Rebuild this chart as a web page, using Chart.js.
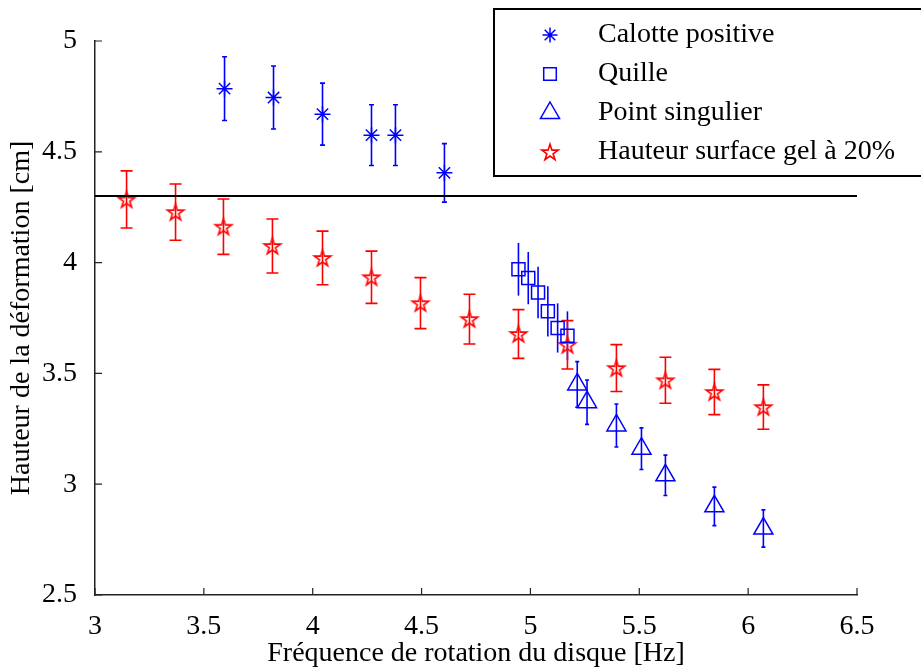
<!DOCTYPE html>
<html><head><meta charset="utf-8">
<script src="https://cdn.jsdelivr.net/npm/chart.js@4.4.0/dist/chart.umd.min.js"></script>
<style>html,body{margin:0;padding:0;background:#fff}canvas{display:block}</style>
</head><body>
<canvas id="c" width="921" height="667" style="width:921px;height:667px"></canvas>
<script>
// ---- data ----
const xTicks = [3, 3.5, 4, 4.5, 5, 5.5, 6, 6.5];
const yTicks = [2.5, 3, 3.5, 4, 4.5, 5];

const seriesNames = ['Calotte positive', 'Quille', 'Point singulier', 'Hauteur surface gel à 20%'];

const calotteX = [3.595, 3.82, 4.045, 4.27, 4.38, 4.605];
const calotteY = [4.785, 4.745, 4.67, 4.575, 4.575, 4.405];
const calotteErr = [0.144, 0.142, 0.14, 0.137, 0.137, 0.132];

const quilleX = [4.945, 4.99, 5.035, 5.08, 5.125, 5.17];
const quilleY = [3.97, 3.93, 3.865, 3.78, 3.705, 3.67];
const quilleErr = [0.119, 0.118, 0.116, 0.113, 0.111, 0.11];

const singX = [5.215, 5.26, 5.395, 5.51, 5.62, 5.845, 6.07];
const singY = [3.45, 3.37, 3.265, 3.16, 3.04, 2.9, 2.8];
const singErr = [0.103, 0.1, 0.097, 0.094, 0.091, 0.087, 0.084];

const gelX = [3.145, 3.37, 3.59, 3.815, 4.045, 4.27, 4.495, 4.72, 4.945, 5.17, 5.395, 5.62, 5.845, 6.07];
const gelY = [4.285, 4.228, 4.162, 4.075, 4.021, 3.934, 3.817, 3.745, 3.678, 3.629, 3.524, 3.469, 3.416, 3.348];
const gelErr = [0.129, 0.127, 0.125, 0.122, 0.121, 0.118, 0.115, 0.112, 0.11, 0.109, 0.106, 0.104, 0.102, 0.1];

const refLineX = [3, 6.5];
const refLineY = [4.3, 4.3];

// ---- styles ----
const BLUE = '#0000ff', RED = '#ff0000';
const FONT = {family: '"Liberation Serif", "Times New Roman", serif', size: 28};

function pts(xs, ys) { return xs.map((x, i) => ({x: x, y: ys[i]})); }

// pentagram marker image
function makePentagram(R, color, lw) {
  const s = Math.ceil(2 * R + 4);
  const cv = document.createElement('canvas');
  cv.width = s; cv.height = s;
  const g = cv.getContext('2d');
  const c = s / 2, r = R * 0.382;
  g.beginPath();
  for (let k = 0; k < 10; k++) {
    const rad = (k % 2 === 0) ? R : r;
    const a = -Math.PI / 2 + k * Math.PI / 5;
    const px = c + rad * Math.cos(a), py = c + rad * Math.sin(a) + 0.8;
    if (k === 0) g.moveTo(px, py); else g.lineTo(px, py);
  }
  g.closePath();
  g.strokeStyle = color; g.lineWidth = lw; g.lineJoin = 'miter';
  g.stroke();
  return cv;
}
const pentagram = makePentagram(8.6, RED, 1.6);

// ---- plugins ----
const errorBars = {
  id: 'errorBars',
  beforeDatasetsDraw(chart) {
    const ctx = chart.ctx, xs = chart.scales.x, ys = chart.scales.y;
    chart.data.datasets.forEach(ds => {
      if (!ds.errors) return;
      ctx.save();
      ctx.strokeStyle = ds.borderColor;
      ctx.lineWidth = 1.6;
      ds.data.forEach((p, i) => {
        const e = ds.errors[i];
        const px = xs.getPixelForValue(p.x);
        const yt = ys.getPixelForValue(p.y + e), yb = ys.getPixelForValue(p.y - e);
        ctx.beginPath();
        ctx.moveTo(px, yt); ctx.lineTo(px, yb);
        if (ds.capHalf > 0) {
          ctx.moveTo(px - ds.capHalf, yt); ctx.lineTo(px + ds.capHalf, yt);
          ctx.moveTo(px - ds.capHalf, yb); ctx.lineTo(px + ds.capHalf, yb);
        }
        ctx.stroke();
      });
      ctx.restore();
    });
  }
};

const inwardTicks = {
  id: 'inwardTicks',
  afterDraw(chart) {
    const ctx = chart.ctx, xs = chart.scales.x, ys = chart.scales.y, a = chart.chartArea;
    ctx.save();
    ctx.strokeStyle = '#222'; ctx.lineWidth = 1.2;
    ctx.beginPath();
    xTicks.forEach(v => { const p = xs.getPixelForValue(v); ctx.moveTo(p, a.bottom); ctx.lineTo(p, a.bottom - 7); });
    yTicks.forEach(v => { const p = ys.getPixelForValue(v); ctx.moveTo(a.left, p); ctx.lineTo(a.left + 7, p); });
    ctx.stroke();
    ctx.restore();
  }
};

function drawMarker(ctx, style, x, y, color) {
  ctx.save();
  ctx.strokeStyle = color; ctx.lineWidth = 1.5;
  ctx.beginPath();
  if (style === 'star') {
    const r = 7.5;
    for (let k = 0; k < 4; k++) {
      const a = k * Math.PI / 4;
      ctx.moveTo(x - r * Math.cos(a), y - r * Math.sin(a));
      ctx.lineTo(x + r * Math.cos(a), y + r * Math.sin(a));
    }
    ctx.stroke();
  } else if (style === 'rect') {
    const h = 6.3;
    ctx.rect(x - h, y - h, 2 * h, 2 * h); ctx.stroke();
  } else if (style === 'triangle') {
    const r = 11;
    ctx.moveTo(x, y - r);
    ctx.lineTo(x + r * 0.866, y + r / 2);
    ctx.lineTo(x - r * 0.866, y + r / 2);
    ctx.closePath(); ctx.stroke();
  } else {
    ctx.drawImage(style, x - style.width / 2, y - style.height / 2);
  }
  ctx.restore();
}

const boxLegend = {
  id: 'boxLegend',
  afterDraw(chart) {
    const ctx = chart.ctx;
    ctx.save();
    ctx.fillStyle = '#fff';
    ctx.fillRect(494, 9, 440, 167);
    ctx.strokeStyle = '#000'; ctx.lineWidth = 2;
    ctx.strokeRect(494, 9, 440, 167);
    ctx.font = FONT.size + 'px ' + FONT.family;
    ctx.textBaseline = 'middle'; ctx.textAlign = 'left'; ctx.fillStyle = '#000';
    const dsList = chart.data.datasets.filter(d => d.inLegend);
    dsList.forEach((ds, i) => {
      const yy = 35 + i * 39;
      drawMarker(ctx, ds.pointStyle, 550, yy, ds.borderColor);
      ctx.fillStyle = '#000';
      ctx.fillText(ds.label, 598, yy);
    });
    ctx.restore();
  }
};

// ---- chart ----
new Chart(document.getElementById('c'), {
  type: 'scatter',
  data: {
    datasets: [
      {label: 'ref', data: pts(refLineX, refLineY), showLine: true, borderColor: '#000', borderWidth: 2,
       pointRadius: 0, fill: false, inLegend: false},
      {label: seriesNames[0], data: pts(calotteX, calotteY), errors: calotteErr, capHalf: 2.5,
       pointStyle: 'star', pointRadius: 8, borderColor: BLUE, backgroundColor: 'rgba(0,0,0,0)', borderWidth: 1.5, inLegend: true},
      {label: seriesNames[1], data: pts(quilleX, quilleY), errors: quilleErr, capHalf: 0,
       pointStyle: 'rect', pointRadius: 9.2, borderColor: BLUE, backgroundColor: 'rgba(0,0,0,0)', borderWidth: 1.5, inLegend: true},
      {label: seriesNames[2], data: pts(singX, singY), errors: singErr, capHalf: 2,
       pointStyle: 'triangle', pointRadius: 11, borderColor: BLUE, backgroundColor: 'rgba(0,0,0,0)', borderWidth: 1.5, inLegend: true},
      {label: seriesNames[3], data: pts(gelX, gelY), errors: gelErr, capHalf: 6,
       pointStyle: pentagram, pointRadius: 9, borderColor: RED, backgroundColor: 'rgba(0,0,0,0)', borderWidth: 1.5, inLegend: true}
    ]
  },
  options: {
    responsive: false,
    animation: false,
    devicePixelRatio: 1,
    layout: {padding: {top: 41, right: 64, left: 0, bottom: 0}},
    plugins: {legend: {display: false}, tooltip: {enabled: false}},
    scales: {
      x: {
        type: 'linear', min: 3, max: 6.5,
        afterBuildTicks: s => { s.ticks = xTicks.map(v => ({value: v})); },
        afterFit: s => { s.height = 72; },
        border: {display: true, color: '#222', width: 1.5},
        grid: {display: false},
        ticks: {font: FONT, color: '#000', padding: 7, maxRotation: 0, autoSkip: false, callback: v => String(v)},
        title: {display: true, text: 'Fréquence de rotation du disque [Hz]', font: FONT, color: '#000', padding: {top: 0, bottom: -3}}
      },
      y: {
        type: 'linear', min: 2.5, max: 5,
        afterBuildTicks: s => { s.ticks = yTicks.map(v => ({value: v})); },
        afterFit: s => { s.width = 95; },
        border: {display: true, color: '#222', width: 1.5},
        grid: {display: false},
        ticks: {font: FONT, color: '#000', padding: 10, autoSkip: false, callback: v => String(v)},
        title: {display: true, text: 'Hauteur de la déformation [cm]', font: FONT, color: '#000', padding: {top: 5, bottom: 0}}
      }
    }
  },
  plugins: [errorBars, inwardTicks, boxLegend]
});
</script>
</body></html>
